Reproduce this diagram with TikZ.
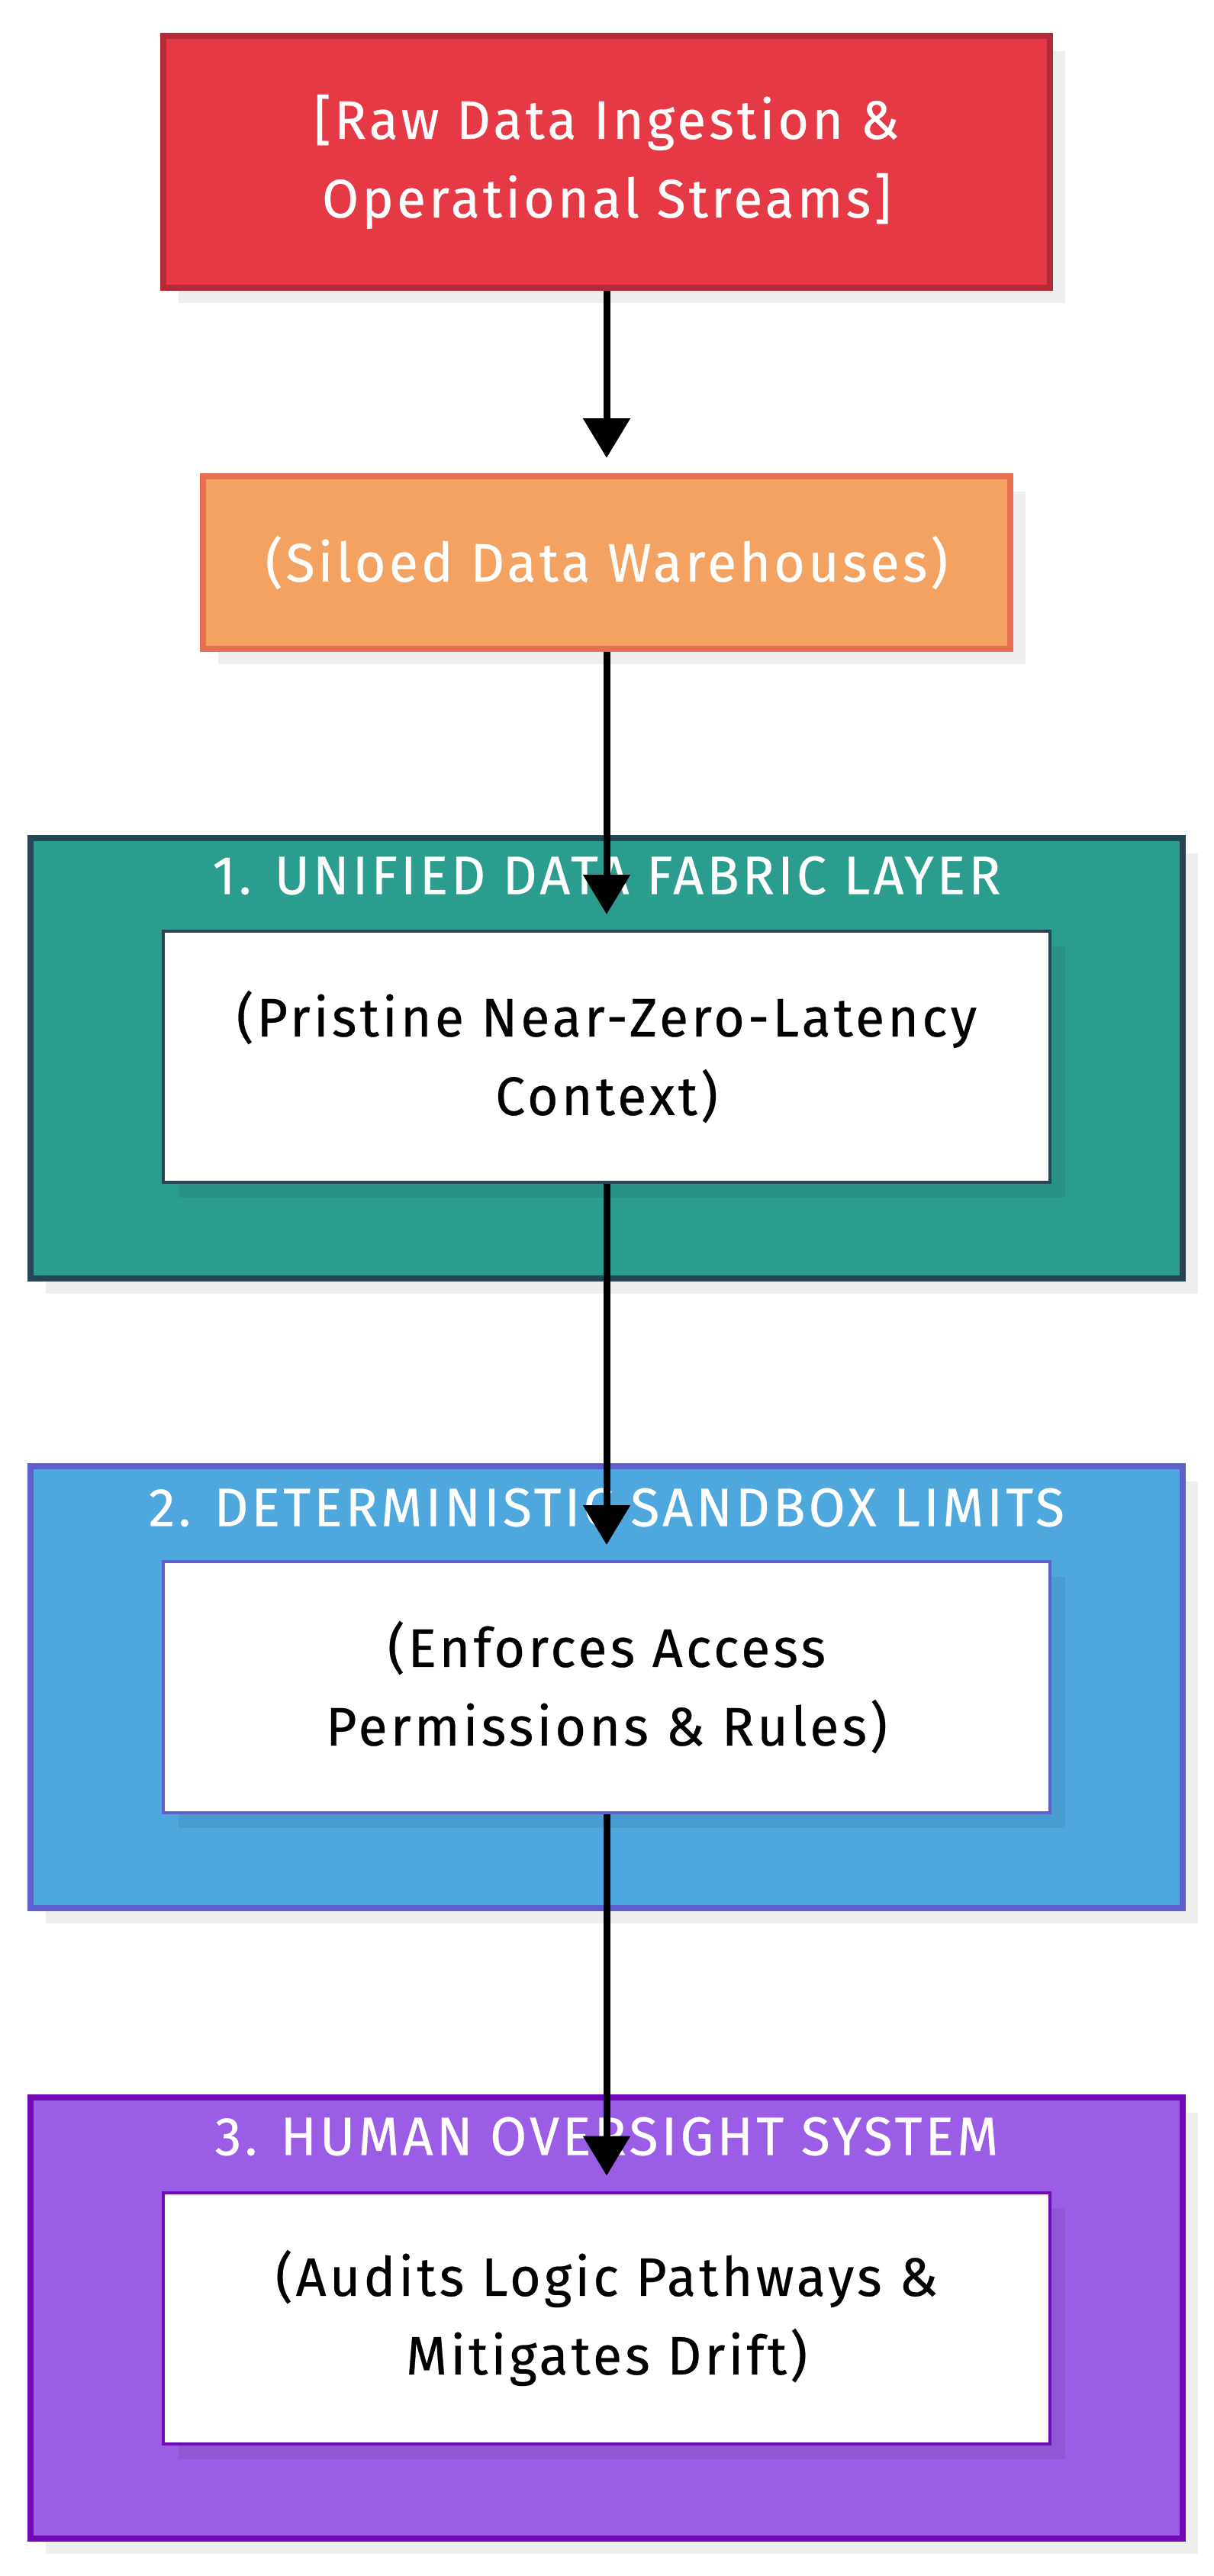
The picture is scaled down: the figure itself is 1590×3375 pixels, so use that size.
\documentclass[tikz,border=0pt]{standalone}
\usepackage{fontspec}
\setmainfont{Fira Sans}[FakeStretch=0.98,LetterSpace=6,FakeBold=0.4]
\usetikzlibrary{arrows.meta,shadows}
\definecolor{redF}{HTML}{E63946}
\definecolor{redD}{HTML}{B52A38}
\definecolor{orgF}{HTML}{F4A261}
\definecolor{orgD}{HTML}{E76F51}
\definecolor{tealF}{HTML}{2A9D8F}
\definecolor{tealD}{HTML}{264653}
\definecolor{blueF}{HTML}{4EA8DE}
\definecolor{blueD}{HTML}{5E60CE}
\definecolor{purF}{HTML}{9B5DE5}
\definecolor{purD}{HTML}{7209B7}
\begin{document}
\begin{tikzpicture}[x=1pt,y=-1pt,
  shad/.style={drop shadow={shadow xshift=20pt,shadow yshift=-20pt,fill=black,opacity=0.065}},
  box/.style={rectangle,inner sep=0pt,align=center,shad,
    font=\fontsize{71}{103}\selectfont},
  topbox/.style={box,line width=8pt,text=white},
  cluster/.style={rectangle,inner sep=0pt,shad,line width=8pt,minimum width=1510pt},
  inner/.style={box,fill=white,line width=4pt,text=black,minimum width=1162pt,minimum height=329pt},
  title/.style={inner sep=0pt,text=white,font=\fontsize{71}{80}\selectfont},
  arr/.style={line width=9pt,-{Triangle[length=52pt,width=60pt]}}
]
\useasboundingbox (0,0) rectangle (1590,3375);
% top nodes
\node[topbox,fill=redF,draw=redD,minimum width=1162pt,minimum height=330pt] (raw) at (795,212)
  {[Raw Data Ingestion \&\\Operational Streams]};
\node[topbox,fill=orgF,draw=orgD,minimum width=1058pt,minimum height=226pt] (silo) at (795,737)
  {(Siloed Data Warehouses)};
% clusters
\node[cluster,fill=tealF,draw=tealD,minimum height=577pt] (c1) at (795,1386) {};
\node[title] (t1) at (795,1147) {1. UNIFIED DATA FABRIC LAYER};
\node[inner,draw=tealD] (n1) at (795,1384.5) {(Pristine Near-Zero-Latency\\Context)};
\node[cluster,fill=blueF,draw=blueD,minimum height=579pt] (c2) at (795,2210.5) {};
\node[title] (t2) at (795,1975) {2. DETERMINISTIC SANDBOX LIMITS};
\node[inner,draw=blueD] (n2) at (795,2210.5) {(Enforces Access\\Permissions \& Rules)};
\node[cluster,fill=purF,draw=purD,minimum height=578pt] (c3) at (795,3037) {};
\node[title] (t3) at (795,2799) {3. HUMAN OVERSIGHT SYSTEM};
\node[inner,draw=purD] (n3) at (795,3037) {(Audits Logic Pathways \&\\Mitigates Drift)};
% arrows
\draw[arr] (raw.south) -- ([yshift=20pt]silo.north);
\draw[arr] (silo.south) -- ([yshift=20pt]n1.north);
\draw[arr] (n1.south) -- ([yshift=20pt]n2.north);
\draw[arr] (n2.south) -- ([yshift=20pt]n3.north);
\end{tikzpicture}
\end{document}
